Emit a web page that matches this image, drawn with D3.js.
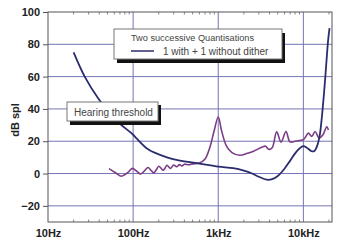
<!DOCTYPE html>
<html>
<head>
<meta charset="utf-8">
<script src="https://cdnjs.cloudflare.com/ajax/libs/d3/7.8.5/d3.min.js"></script>
<style>
  body { margin: 0; background: #fff; }
  text { font-family: "Liberation Sans", Arial, sans-serif; }
</style>
</head>
<body>
<div class="chart"></div>
<script>
// data (frequency in Hz, level in dB spl)
var thresholdFreq = [20, 27, 39, 60, 100, 110, 150, 250, 400, 600, 1000, 1500, 2000, 2500, 3000, 3700, 4300, 5000, 6000, 7000, 8000, 9000, 10000, 11000, 12500, 13500, 14500, 15500, 16500, 18000, 19500, 20300];
var thresholdDb   = [75, 60, 46.4, 34, 24, 21.7, 15, 10, 7.5, 6.2, 4.3, 3.3, 1.8, 0, -2, -3.8, -3.5, -1.5, 3, 8, 12.5, 15.5, 17, 16, 13.8, 14, 17, 23, 35, 58, 82, 90];

var quantFreq = [52, 62, 73, 86, 98, 110, 122, 135, 150, 162, 175, 188, 200, 213, 225, 238, 250, 275, 300, 325, 350, 375, 400, 450, 500, 600, 700, 800, 900, 1000, 1100, 1250, 1450, 1800, 2200, 2600, 3300, 3600, 3900, 4300, 4860, 5470, 6250, 6970, 7980, 9000, 10000, 10700, 11450, 12560, 13740, 15310, 17000, 18850, 19680];
var quantDb   = [3, 0.5, -1.7, 0.5, 3.2, 1.5, -0.3, 1.5, 3.7, 2, 0.4, 2.5, 4.5, 3.3, 2, 3.5, 5.1, 3.2, 5.3, 4.2, 5.5, 4.7, 5.8, 5.4, 6, 6.5, 9, 16.5, 27, 35, 26, 17, 13, 11.3, 12.5, 13.8, 16.5, 16.9, 15, 16, 25.8, 19.4, 26, 19.6, 20, 20.5, 21, 23, 25, 23, 26, 22, 24, 29, 27];

var yTicks = [-20, 0, 20, 40, 60, 80, 100];
var xTicks = [10, 100, 1000, 10000];
var xTickLabels = ["10Hz", "100Hz", "1kHz", "10kHz"];

var legendTitle = "Two successive Quantisations";
var legendLabel = "1 with + 1 without dither";
var noteLabel = "Hearing threshold";

var svg = d3.select(".chart").append("svg")
  .attr("width", 345)
  .attr("height", 241);

var plotLeft = 48, plotRight = 332, plotTop = 12, plotBottom = 222;

var x = d3.scaleLog().domain([10, 21700]).range([plotLeft, plotRight]);
var y = d3.scaleLinear().domain([-30, 100]).range([plotBottom, plotTop]);

var gridColor = "#7474b4";

// horizontal grid
svg.selectAll(".hgrid")
  .data(yTicks.filter(d => d > -30 && d < 100))
  .enter().append("line")
  .attr("x1", plotLeft).attr("x2", plotRight)
  .attr("y1", d => y(d)).attr("y2", d => y(d))
  .attr("stroke", gridColor)
  .attr("stroke-width", 1);

// vertical grid
svg.selectAll(".vgrid")
  .data(xTicks.filter(d => d > 10))
  .enter().append("line")
  .attr("x1", d => x(d)).attr("x2", d => x(d))
  .attr("y1", plotTop).attr("y2", plotBottom)
  .attr("stroke", gridColor)
  .attr("stroke-width", 1);

// minor log ticks on top and bottom edges
var minor = x.ticks().filter(d => d <= 21700 && xTicks.indexOf(d) < 0);
svg.selectAll(".mtop")
  .data(minor)
  .enter().append("line")
  .attr("x1", d => x(d)).attr("x2", d => x(d))
  .attr("y1", plotTop).attr("y2", plotTop + 2.5)
  .attr("stroke", "#888");
svg.selectAll(".mbot")
  .data(minor)
  .enter().append("line")
  .attr("x1", d => x(d)).attr("x2", d => x(d))
  .attr("y1", plotBottom).attr("y2", plotBottom - 2.5)
  .attr("stroke", "#888");

// frame
svg.append("rect")
  .attr("x", plotLeft).attr("y", plotTop)
  .attr("width", plotRight - plotLeft).attr("height", plotBottom - plotTop)
  .attr("fill", "none")
  .attr("stroke", "#555")
  .attr("stroke-width", 1);

// y axis ticks and labels
var yAxis = d3.axisLeft(y).tickValues(yTicks).tickSize(5).tickPadding(3);
var gy = svg.append("g")
  .attr("transform", "translate(" + plotLeft + ",0)")
  .call(yAxis);
gy.select(".domain").remove();
gy.selectAll("line").attr("stroke", "#555");
gy.selectAll("text")
  .style("font-size", "11px")
  .style("font-weight", "bold")
  .attr("fill", "#222");

// x axis labels
var xAxis = d3.axisBottom(x).tickValues(xTicks).tickFormat((d, i) => xTickLabels[i]).tickSize(0).tickPadding(7);
var gx = svg.append("g")
  .attr("transform", "translate(0," + plotBottom + ")")
  .call(xAxis);
gx.select(".domain").remove();
gx.selectAll("text")
  .style("font-size", "11px")
  .style("font-weight", "bold")
  .attr("fill", "#222");

// y axis title
svg.append("text")
  .attr("transform", "translate(19,120) rotate(-90)")
  .attr("text-anchor", "middle")
  .style("font-size", "11px")
  .style("font-weight", "bold")
  .attr("fill", "#222")
  .text("dB spl");

var line = d3.line()
  .x(d => x(d[0]))
  .y(d => y(d[1]))
  .curve(d3.curveCatmullRom.alpha(0.5));

// quantisation curve
svg.append("path")
  .datum(d3.zip(quantFreq, quantDb))
  .attr("fill", "none")
  .attr("stroke", "#7a3d86")
  .attr("stroke-width", 1.6)
  .attr("d", line);

// hearing threshold curve
svg.append("path")
  .datum(d3.zip(thresholdFreq, thresholdDb))
  .attr("fill", "none")
  .attr("stroke", "#2b2c6e")
  .attr("stroke-width", 1.8)
  .attr("d", line);

// legend box
svg.append("rect")
  .attr("x", 117).attr("y", 33).attr("width", 168).attr("height", 30)
  .attr("fill", "#111");
svg.append("rect")
  .attr("x", 114).attr("y", 29).attr("width", 168).attr("height", 30)
  .attr("fill", "#fff")
  .attr("stroke", "#777");
svg.append("text")
  .attr("x", 131).attr("y", 41)
  .style("font-size", "9.2px")
  .attr("fill", "#444")
  .text(legendTitle);
svg.append("line")
  .attr("x1", 131).attr("x2", 154)
  .attr("y1", 51).attr("y2", 51)
  .attr("stroke", "#2b2c6e")
  .attr("stroke-width", 1.5);
svg.append("text")
  .attr("x", 163).attr("y", 55)
  .style("font-size", "10px")
  .attr("fill", "#444")
  .text(legendLabel);

// hearing threshold label box
svg.append("rect")
  .attr("x", 70).attr("y", 105).attr("width", 91).attr("height", 20)
  .attr("fill", "#111");
svg.append("rect")
  .attr("x", 67).attr("y", 102).attr("width", 91).attr("height", 19)
  .attr("fill", "#fff")
  .attr("stroke", "#777");
svg.append("text")
  .attr("x", 74).attr("y", 115.5)
  .style("font-size", "10px")
  .attr("fill", "#444")
  .text(noteLabel);
</script>
</body>
</html>
